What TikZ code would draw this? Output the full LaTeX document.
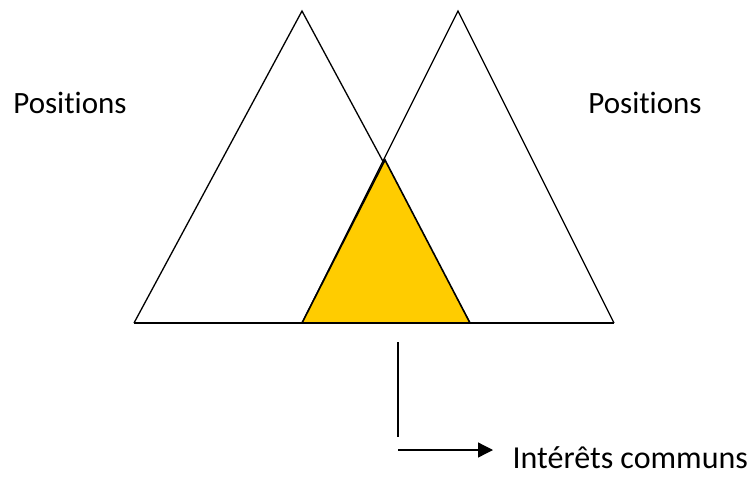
\documentclass[tikz,border=0pt]{standalone}
\usepackage{fontspec}
\setmainfont[Ligatures=NoCommon]{Carlito}
\usepackage{xcolor}
\usetikzlibrary{arrows.meta,positioning}
\definecolor{commun}{HTML}{FFCC00}

\begin{document}
\begin{tikzpicture}[x=1pt,y=-1pt,>={Triangle[length=15pt,width=15pt]},
    line width=1.3pt,
    lbl/.style={font=\fontsize{31}{36}\selectfont,inner sep=0pt}]
  \useasboundingbox (0,0) rectangle (750,477);

  % the two triangles
  \coordinate (gA) at (134,323);
  \coordinate (gS) at (302,11);
  \coordinate (gB) at (470,323);
  \coordinate (dA) at (302,323);
  \coordinate (dS) at (458,11);
  \coordinate (dB) at (614,323);
  \coordinate (cS) at (385,160);

  \draw (gA) -- (gS) -- (gB);
  \draw (dA) -- (dS) -- (dB);
  \draw (gA) -- (dB);
  \draw[fill=commun,line width=1.6pt] (dA) -- (cS) -- (gB) -- cycle;

  \node[lbl,anchor=base] (posg) at (70,113) {Positions};
  \node[lbl,anchor=base] (posd) at (645,113) {Positions};

  % arrow to the label
  \coordinate (v1) at (398,342);
  \coordinate (v2) at (398,437);
  \coordinate (h1) at (398,450);
  \node[lbl,anchor=base west,font=\fontsize{32}{36}\selectfont] (ic) at (512,468) {Intérêts communs};
  \coordinate (h2) at (493,450);

  \draw (v1) -- (v2);
  \draw[->] (h1) -- (h2);
\end{tikzpicture}
\end{document}
